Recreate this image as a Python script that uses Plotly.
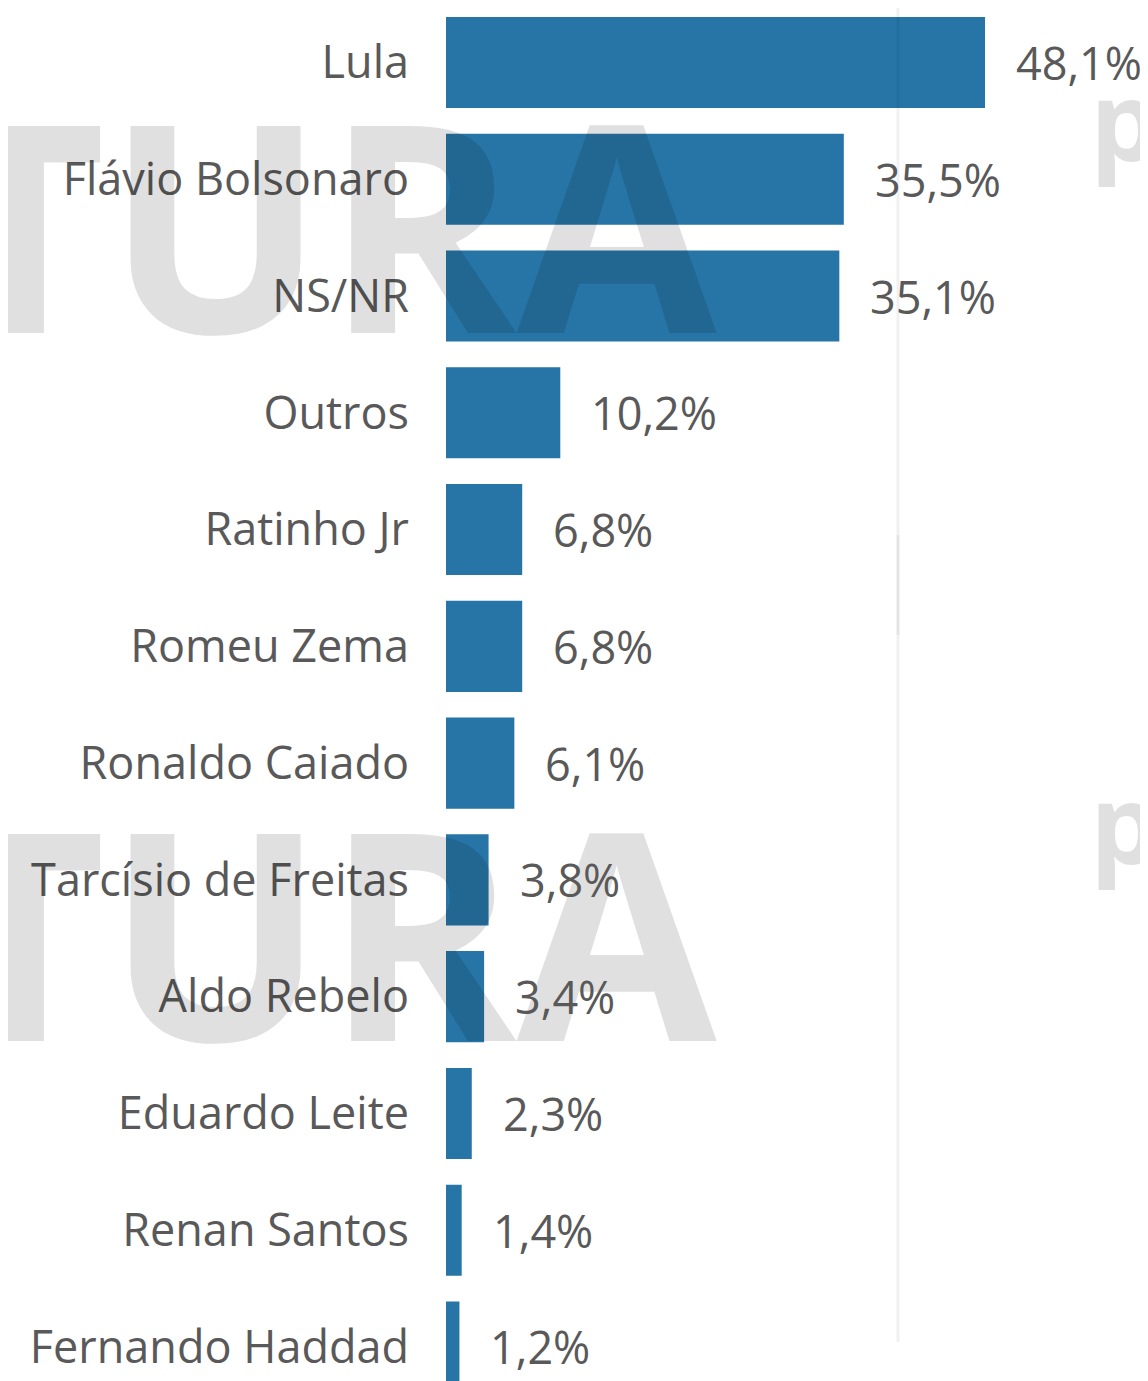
import plotly.graph_objects as go

categories = ["Lula", "Flávio Bolsonaro", "NS/NR", "Outros", "Ratinho Jr", "Romeu Zema",
              "Ronaldo Caiado", "Tarcísio de Freitas", "Aldo Rebelo", "Eduardo Leite",
              "Renan Santos", "Fernando Haddad"]
values = [48.1, 35.5, 35.1, 10.2, 6.8, 6.8, 6.1, 3.8, 3.4, 2.3, 1.4, 1.2]
value_labels = ["48,1%", "35,5%", "35,1%", "10,2%", "6,8%", "6,8%", "6,1%", "3,8%",
                "3,4%", "2,3%", "1,4%", "1,2%"]
watermark_text = "TURA"

OFF = 8                      # page offset of the figure (body margin)
W, H = 1148 - OFF, 1381 - OFF
ML, MT = 446 - OFF, 0
PW = W - ML
PH = H - MT
PX_PER_UNIT = 11.206
CAT_PX = 116.77
FIRST_CENTER = 62.5 - OFF    # centre of first category band in figure px

BAR = "#2775A7"
TXT = "#595959"
FONT = "Open Sans"
WM = "rgba(0,0,0,0.12)"

fig = go.Figure(go.Bar(
    x=values, y=categories, orientation="h",
    marker=dict(color=BAR, line=dict(width=0)),
    hoverinfo="skip",
))

def px_x(page_x):
    return (page_x - OFF - ML) / PW

def px_y(page_y):
    return (H - (page_y - OFF)) / PH

annotations = []
# watermark (decorative)
for cy in (220, 928):
    annotations.append(dict(
        text=watermark_text, xref="paper", yref="paper", x=px_x(722), y=px_y(cy),
        xanchor="right", yanchor="middle", showarrow=False,
        font=dict(family=FONT, size=290, color=WM, weight=700),
    ))
for cy in (118, 821):
    annotations.append(dict(
        text="p", xref="paper", yref="paper", x=px_x(1088), y=px_y(cy),
        xanchor="left", yanchor="middle", showarrow=False,
        font=dict(family=FONT, size=110, color=WM, weight=700),
    ))
# value labels
for c, v, lab in zip(categories, values, value_labels):
    annotations.append(dict(
        text=lab, x=v, y=c, xref="x", yref="y", xanchor="left", yanchor="middle",
        xshift=29, showarrow=False, font=dict(family=FONT, size=45, color=TXT),
    ))

shapes = [
    dict(type="line", xref="paper", yref="paper", x0=px_x(898), x1=px_x(898),
         y0=px_y(1342), y1=1.02, line=dict(color="rgba(0,0,0,0.06)", width=3), layer="above"),
    dict(type="line", xref="paper", yref="paper", x0=px_x(898), x1=px_x(898),
         y0=px_y(635), y1=px_y(535), line=dict(color="rgba(0,0,0,0.05)", width=3), layer="above"),
]

top_val = -FIRST_CENTER / CAT_PX
fig.update_layout(
    width=W, height=H,
    margin=dict(l=ML, r=0, t=MT, b=0, pad=0),
    paper_bgcolor="white", plot_bgcolor="white",
    bargap=0.22, showlegend=False,
    font=dict(family=FONT, color=TXT),
    annotations=annotations, shapes=shapes,
    xaxis=dict(range=[0, PW / PX_PER_UNIT], visible=False, fixedrange=True),
    yaxis=dict(range=[top_val + PH / CAT_PX, top_val], showgrid=False, zeroline=False,
               showline=False, ticks="", ticklabelstandoff=36,
               tickfont=dict(family=FONT, size=45, color=TXT), fixedrange=True),
)

fig.write_html("out.html", config={"displayModeBar": False})
